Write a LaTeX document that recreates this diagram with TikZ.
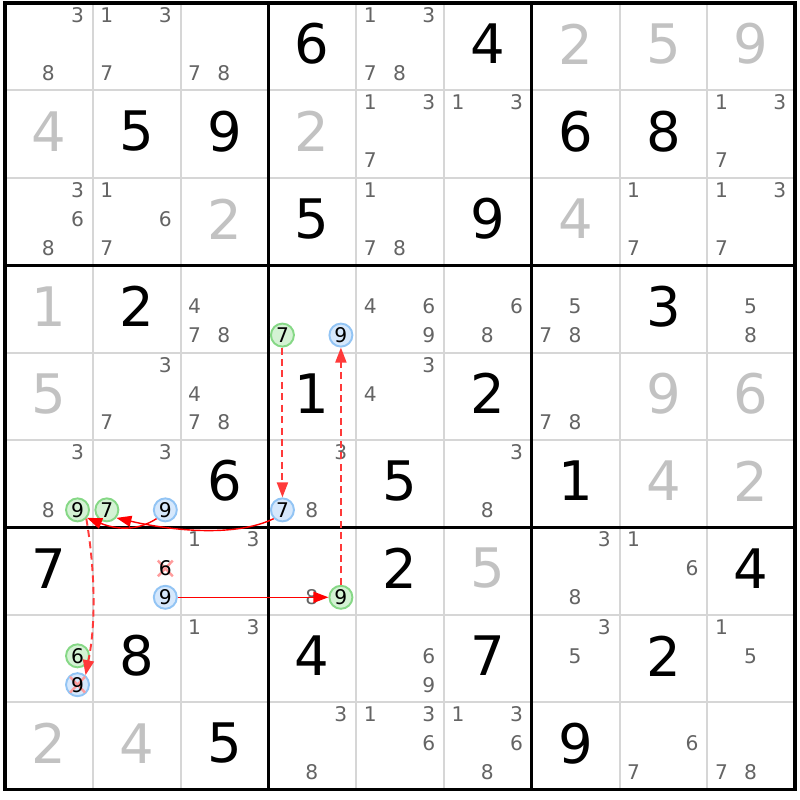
\documentclass[tikz,border=0pt]{standalone}
\usepackage{xcolor}
\usepackage{fontspec}
\setmainfont{DejaVu Sans}
\usetikzlibrary{calc, positioning, arrows.meta}

\definecolor{solvedgray}{HTML}{C2C2C2}
\definecolor{candgray}{HTML}{646464}
\definecolor{gridgray}{HTML}{D6D6D6}
\definecolor{onfill}{HTML}{D4F2D4}
\definecolor{ondraw}{HTML}{86D886}
\definecolor{offfill}{HTML}{D6E8FC}
\definecolor{offdraw}{HTML}{92C4F4}
\definecolor{crossred}{HTML}{FF9C9C}
\definecolor{weakred}{HTML}{FF3A3A}

% one pencil mark: [style]{col}{row}{digit}
\newcommand{\pmark}[4][cand]{%
  \node[#1] (r#3c#2n#4) at ({#2+0.16+0.333*mod(#4-1,3)},{#3+0.14+0.33*floor((#4-1)/3)}) {#4};}
% all plain pencil marks of one cell
\newcommand{\pencil}[3]{\foreach \d in {#3}{\pmark{#1}{#2}{\d}}}
% eliminated mark: cross over the (empty) node #1, then its digit #2 on top
\newcommand{\xmark}[2]{%
  \draw[crossline] ([shift={(-.085,-.09)}]#1.center) -- ([shift={(.085,.09)}]#1.center)
                   ([shift={(-.085,.09)}]#1.center) -- ([shift={(.085,-.09)}]#1.center);
  \node[cand, text=black] at (#1) {#2};}

\begin{document}
\begin{tikzpicture}[x=1.756cm, y=-1.748cm,
    given/.style={font=\fontsize{31}{31}\selectfont, text=black},
    solved/.style={given, text=solvedgray},
    cand/.style={font=\fontsize{11.5}{12}\selectfont, text=candgray, inner sep=1pt},
    oncand/.style={cand, text=black, circle, fill=onfill, draw=ondraw, line width=1.1pt, minimum size=0.46cm, inner sep=0pt},
    offcand/.style={oncand, fill=offfill, draw=offdraw},
    crossline/.style={crossred, line width=1.4pt},
    cellline/.style={gridgray, line width=1.1pt},
    boxline/.style={black, line width=1.8pt},
    strong/.style={red, line width=0.8pt, -{Triangle[length=0.3cm, width=0.22cm]}},
    weak/.style={strong, weakred, line width=1.1pt, dash pattern=on 4pt off 2.5pt}]

    \useasboundingbox (-0.057,-0.034) rectangle (9.055,9.119);

    % grid
    \foreach \i in {1,2,4,5,7,8}{
        \draw[cellline] (\i,0) -- (\i,9);
        \draw[cellline] (0,\i) -- (9,\i);}
    \foreach \i in {3,6}{
        \draw[boxline] (\i,0) -- (\i,9);
        \draw[boxline] (0,\i) -- (9,\i);}
    \draw[boxline, line width=2.2pt] (0,0) rectangle (9,9);

    % givens (black) and solved cells (gray)
    \foreach \c/\r/\v in {3/0/6, 5/0/4, 1/1/5, 2/1/9, 6/1/6, 7/1/8, 3/2/5, 5/2/9,
                          1/3/2, 7/3/3, 3/4/1, 5/4/2, 2/5/6, 4/5/5, 6/5/1,
                          0/6/7, 4/6/2, 8/6/4, 1/7/8, 3/7/4, 5/7/7, 7/7/2, 2/8/5, 6/8/9}
        \node[given] (v\r\c) at (\c+.5,\r+.47) {\v};
    \foreach \c/\r/\v in {6/0/2, 7/0/5, 8/0/9, 0/1/4, 3/1/2, 2/2/2, 6/2/4, 0/3/1,
                          0/4/5, 7/4/9, 8/4/6, 7/5/4, 8/5/2, 5/6/5, 0/8/2, 1/8/4}
        \node[solved] (v\r\c) at (\c+.5,\r+.47) {\v};

    % pencil marks
    \pencil{0}{0}{3,8}   \pencil{1}{0}{1,3,7} \pencil{2}{0}{7,8}   \pencil{4}{0}{1,3,7,8}
    \pencil{4}{1}{1,3,7} \pencil{5}{1}{1,3}   \pencil{8}{1}{1,3,7}
    \pencil{0}{2}{3,6,8} \pencil{1}{2}{1,6,7} \pencil{4}{2}{1,7,8} \pencil{7}{2}{1,7} \pencil{8}{2}{1,3,7}
    \pencil{2}{3}{4,7,8} \pencil{4}{3}{4,6,9} \pencil{5}{3}{6,8}   \pencil{6}{3}{5,7,8} \pencil{8}{3}{5,8}
    \pencil{1}{4}{3,7}   \pencil{2}{4}{4,7,8} \pencil{4}{4}{3,4}   \pencil{6}{4}{7,8}
    \pencil{0}{5}{3,8}   \pencil{1}{5}{3}     \pencil{3}{5}{3,8}   \pencil{5}{5}{3,8}
    \pencil{2}{6}{1,3}   \pencil{3}{6}{8}     \pencil{6}{6}{3,8}   \pencil{7}{6}{1,6}
    \pencil{2}{7}{1,3}   \pencil{4}{7}{6,9}   \pencil{6}{7}{3,5}   \pencil{8}{7}{1,5}
    \pencil{3}{8}{3,8}   \pencil{4}{8}{1,3,6} \pencil{5}{8}{1,3,6,8} \pencil{7}{8}{6,7} \pencil{8}{8}{7,8}

    % chain marks
    \pmark[oncand]{3}{3}{7}  \pmark[offcand]{3}{3}{9}
    \pmark[oncand]{0}{5}{9}
    \pmark[oncand]{1}{5}{7}  \pmark[offcand]{1}{5}{9}
    \pmark[offcand]{3}{5}{7}
    \pmark[cand, text opacity=0]{1}{6}{6}  \pmark[offcand]{1}{6}{9}
    \pmark[oncand]{3}{6}{9}
    \pmark[oncand]{0}{7}{6}  \pmark[offcand, text opacity=0]{0}{7}{9}

    % eliminations
    \xmark{r6c1n6}{6}
    \xmark{r7c0n9}{9}

    % links
    \draw[strong] (r6c1n9) -- (r6c3n9);
    \draw[weak] (r6c3n9) -- (r3c3n9);
    \draw[weak] (r3c3n7) -- (r5c3n7);
    \draw[strong] (r5c3n7.225) .. controls +(-0.45,0.22) and +(0.6,0.14) .. (r5c1n7.-40);
    \draw[strong] (r5c1n9.225) .. controls +(-0.25,0.16) and +(0.3,0.12) .. (r5c0n9.-40);
    \draw[weak] (r5c0n9.-45) .. controls +(0.1,0.6) and +(0.12,-0.6) .. (r7c0n9.50);
\end{tikzpicture}
\end{document}
